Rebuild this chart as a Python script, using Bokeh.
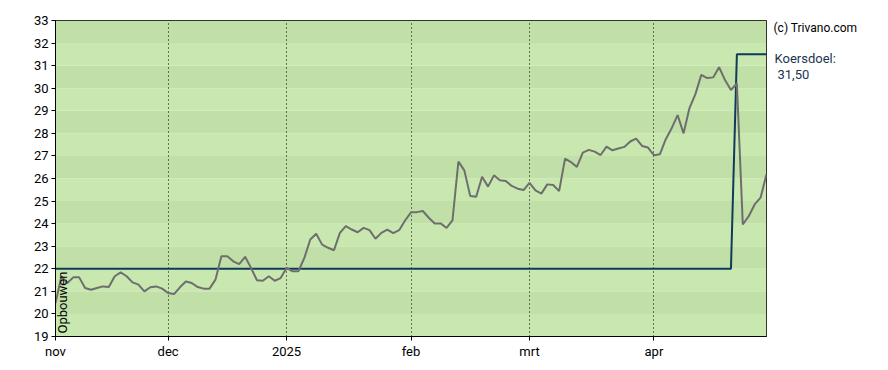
from bokeh.plotting import figure
from bokeh.models import Range1d, FixedTicker, Label, ColumnDataSource
from bokeh.layouts import row
from bokeh.embed import file_html
from bokeh.resources import INLINE
import math

# --- data ---
price = [20.48, 21.67, 21.37, 21.62, 21.62, 21.15, 21.07, 21.15, 21.22, 21.19,
         21.67, 21.84, 21.67, 21.40, 21.30, 21.00, 21.18, 21.22, 21.12, 20.93,
         20.88, 21.18, 21.44, 21.37, 21.19, 21.12, 21.12, 21.52, 22.56, 22.56,
         22.33, 22.21, 22.53, 22.04, 21.49, 21.47, 21.67, 21.47, 21.59, 22.04,
         21.89, 21.89, 22.48, 23.30, 23.55, 23.07, 22.93, 22.82, 23.59, 23.89,
         23.74, 23.62, 23.81, 23.71, 23.33, 23.59, 23.73, 23.58, 23.71, 24.14,
         24.50, 24.51, 24.56, 24.26, 24.01, 24.01, 23.81, 24.14, 26.75, 26.36,
         25.22, 25.19, 26.08, 25.64, 26.14, 25.92, 25.89, 25.67, 25.55, 25.49,
         25.81, 25.47, 25.33, 25.74, 25.71, 25.44, 26.88, 26.73, 26.51, 27.15,
         27.27, 27.19, 27.04, 27.41, 27.25, 27.33, 27.40, 27.64, 27.77, 27.44,
         27.37, 27.03, 27.07, 27.74, 28.23, 28.81, 28.00, 29.12, 29.74, 30.59,
         30.45, 30.48, 30.93, 30.36, 29.92, 30.21, 23.96, 24.33, 24.85, 25.15,
         26.19]
target = [22.0] * 115 + [31.5] * 6
idx = list(range(len(price)))

month_pos = [0, 19, 39, 60, 80, 101]
month_labels = ["nov", "dec", "2025", "feb", "mrt", "apr"]
y_ticks = list(range(19, 34))
band_bottoms = list(range(19, 33))
target_text = "31,50"

FONT = "Roboto"
FS = "13px"

p = figure(width=767, height=370, output_backend="svg", toolbar_location=None,
           x_range=Range1d(0, 120), y_range=Range1d(19, 33),
           min_border_left=55, min_border_right=1, min_border_top=20,
           min_border_bottom=34)
p.background_fill_color = "white"
p.border_fill_color = "white"
p.outline_line_color = "black"
p.outline_line_width = 1

# background bands
band_colors = ["#c8e8b0" if (33 - b) % 2 == 0 else "#c0e0a8" for b in band_bottoms]
bsrc = ColumnDataSource(dict(bottom=band_bottoms, top=[b + 1 for b in band_bottoms],
                             color=band_colors))
br = p.quad(left=0, right=120, bottom="bottom", top="top", fill_color="color",
            line_color=None, source=bsrc)
br.level = "image"

# grid
p.ygrid.grid_line_color = None
p.xgrid.ticker = FixedTicker(ticks=month_pos)
p.xgrid.grid_line_color = "black"
p.xgrid.grid_line_dash = "1 3"
p.xgrid.grid_line_width = 1

# lines
p.line(idx, target, line_color="#0f3a5a", line_width=2)
p.line(idx, price, line_color="#6e6e6e", line_width=2)

# axes
p.xaxis.ticker = FixedTicker(ticks=month_pos)
p.xaxis.major_label_overrides = {k: v for k, v in zip(month_pos, month_labels)}
p.yaxis.ticker = FixedTicker(ticks=y_ticks)
for ax in (p.xaxis[0], p.yaxis[0]):
    ax.axis_line_color = "black"
    ax.major_tick_line_color = "black"
    ax.major_tick_out = 4
    ax.major_tick_in = 0
    ax.minor_tick_line_color = None
    ax.major_label_text_font = FONT
    ax.major_label_text_font_size = FS
    ax.major_label_text_color = "black"
    ax.major_label_standoff = 3

p.add_layout(Label(x=1.2, y=19.13, text="Opbouwen", angle=math.pi / 2, text_font=FONT,
                   text_font_size=FS, text_color="black", text_align="left",
                   text_baseline="middle"))

# right-hand text panel (pixel coordinates, y downwards)
q = figure(width=121, height=370, output_backend="svg", toolbar_location=None,
           x_range=Range1d(0, 121), y_range=Range1d(370, 0),
           min_border=0, x_axis_type=None, y_axis_type=None)
q.outline_line_color = None
q.background_fill_color = "white"
q.border_fill_color = "white"
q.grid.visible = False
q.add_layout(Label(x=6, y=9, text="(c) Trivano.com", text_font=FONT,
                   text_font_size="12px", text_color="black", text_baseline="middle"))
q.add_layout(Label(x=7, y=45, text="Koersdoel:", text_font=FONT,
                   text_font_size=FS, text_color="#1a3550", text_baseline="middle"))
q.add_layout(Label(x=10, y=63, text=target_text, text_font=FONT,
                   text_font_size=FS, text_color="#1a3550", text_baseline="middle"))

layout = row(p, q, spacing=0)
open("out.html", "w").write(file_html(layout, INLINE))
